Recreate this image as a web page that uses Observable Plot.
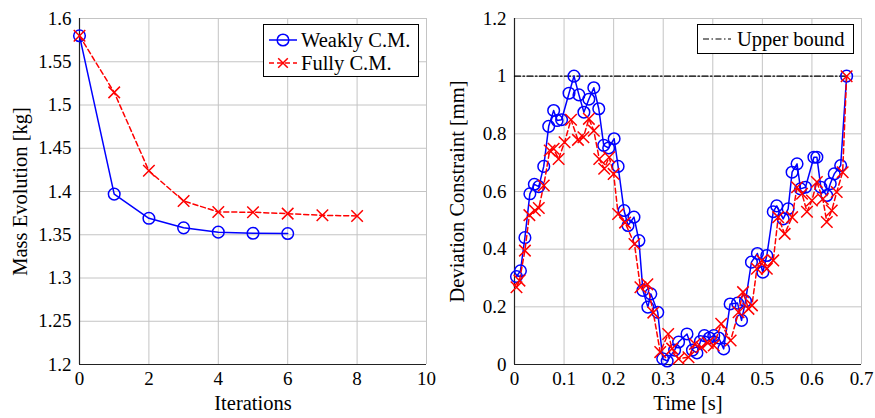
<!DOCTYPE html>
<html>
<head>
<meta charset="utf-8">
<script src="https://cdn.jsdelivr.net/npm/d3@7"></script>
<script src="https://cdn.jsdelivr.net/npm/@observablehq/plot@0.6"></script>
<style>
  html, body { margin: 0; padding: 0; background: #fff; }
  #wrap { position: relative; width: 875px; height: 418px; font-family: "Liberation Serif", serif; }
  #left, #right { position: absolute; top: 0; }
  #left { left: 0; }
  #right { left: 440px; }
  .legend { position: absolute; background: #fff; border: 1px solid #000; box-sizing: border-box; font-size: 20.5px; color: #000; }
  .legend .row { position: absolute; left: 0; height: 22px; white-space: nowrap; }
  .legend svg { position: absolute; overflow: visible; }
  .legend span { position: absolute; line-height: 22px; }
</style>
</head>
<body>
<div id="wrap">
  <div id="left"></div>
  <div id="right"></div>
  <div class="legend" style="left:263px; top:24px; width:156px; height:53px;">
    <div class="row" style="top:4px;">
      <svg width="30" height="22" style="left:5px; top:0;"><line x1="0" x2="28" y1="11" y2="11" stroke="#0000ff" stroke-width="1.5"/><circle cx="14" cy="11" r="5.8" fill="none" stroke="#0000ff" stroke-width="1.5"/></svg>
      <span style="left:37px; top:0;">Weakly C.M.</span>
    </div>
    <div class="row" style="top:27px;">
      <svg width="30" height="22" style="left:5px; top:0;"><line x1="0" x2="28" y1="11" y2="11" stroke="#ff0000" stroke-width="1.5" stroke-dasharray="5,3"/><path d="M9.2,6.2L18.8,15.8M9.2,15.8L18.8,6.2" stroke="#ff0000" stroke-width="1.5"/></svg>
      <span style="left:37px; top:0;">Fully C.M.</span>
    </div>
  </div>
  <div class="legend" style="left:697px; top:24px; width:157px; height:30px;">
    <div class="row" style="top:3px;">
      <svg width="30" height="22" style="left:5px; top:0;"><line x1="0" x2="28" y1="11" y2="11" stroke="#000" stroke-width="1.2" stroke-dasharray="6,2.5,1.5,2.5"/></svg>
      <span style="left:39px; top:0;">Upper bound</span>
    </div>
  </div>
</div>
<script>
// ---- Left chart data ----
const iterWeak = [0, 1, 2, 3, 4, 5, 6];
const massWeak = [1.58, 1.397, 1.369, 1.358, 1.353, 1.3517, 1.3514];
const iterFull = [0, 1, 2, 3, 4, 5, 6, 7, 8];
const massFull = [1.58, 1.5146, 1.4239, 1.389, 1.3764, 1.376, 1.3744, 1.3725, 1.3717];
const iterTicks = [0, 2, 4, 6, 8, 10];
const massTicks = [1.2, 1.25, 1.3, 1.35, 1.4, 1.45, 1.5, 1.55, 1.6];

// ---- Right chart data ----
const timeWeak = [0.004,0.012,0.021,0.031,0.040,0.049,0.059,0.069,0.079,0.086,0.095,0.110,0.120,0.130,0.140,0.150,0.160,0.170,0.180,0.190,0.201,0.209,0.221,0.229,0.241,0.251,0.259,0.269,0.275,0.289,0.299,0.308,0.323,0.331,0.348,0.359,0.368,0.375,0.383,0.393,0.402,0.412,0.422,0.435,0.450,0.458,0.466,0.478,0.490,0.501,0.509,0.522,0.529,0.542,0.552,0.560,0.570,0.577,0.587,0.604,0.610,0.618,0.630,0.637,0.645,0.658,0.670];
const devWeak = [0.305,0.325,0.44,0.592,0.625,0.617,0.687,0.826,0.881,0.846,0.849,0.941,1.0,0.935,0.875,0.920,0.960,0.887,0.760,0.751,0.783,0.687,0.534,0.482,0.511,0.430,0.257,0.199,0.245,0.181,0.020,0.012,0.050,0.078,0.106,0.050,0.040,0.080,0.100,0.092,0.100,0.092,0.054,0.210,0.213,0.153,0.220,0.355,0.385,0.320,0.378,0.530,0.550,0.505,0.540,0.667,0.696,0.609,0.615,0.719,0.719,0.615,0.586,0.627,0.661,0.690,1.0];
const timeFull = [0.004,0.010,0.021,0.030,0.041,0.049,0.059,0.071,0.079,0.089,0.101,0.114,0.128,0.139,0.150,0.160,0.171,0.181,0.191,0.200,0.209,0.223,0.242,0.254,0.268,0.280,0.294,0.310,0.318,0.331,0.351,0.364,0.377,0.390,0.402,0.417,0.436,0.452,0.461,0.472,0.479,0.489,0.499,0.509,0.522,0.532,0.545,0.560,0.570,0.580,0.590,0.600,0.610,0.622,0.630,0.640,0.650,0.662,0.670];
const devFull = [0.268,0.291,0.395,0.518,0.534,0.543,0.621,0.742,0.748,0.713,0.771,0.849,0.779,0.788,0.852,0.811,0.713,0.679,0.719,0.661,0.522,0.492,0.418,0.268,0.278,0.180,0.043,0.106,0.055,0.020,0.025,0.071,0.060,0.075,0.066,0.141,0.083,0.181,0.251,0.193,0.205,0.332,0.361,0.332,0.361,0.511,0.453,0.511,0.615,0.592,0.530,0.569,0.633,0.574,0.494,0.534,0.598,0.667,1.0];
const boundTime = [0, 0.67];
const boundDev = [1, 1];
const timeTicks = [0, 0.1, 0.2, 0.3, 0.4, 0.5, 0.6, 0.7];
const devTicks = [0, 0.2, 0.4, 0.6, 0.8, 1, 1.2];

const zip = (xs, ys) => xs.map((x, i) => ({x, y: ys[i]}));
const fmt = d => String(+d.toFixed(2));
const FONT = "Liberation Serif";
const GRID = "#c4c4c4";
const BLUE = "#0000ff", RED = "#ff0000";
const style = {fontFamily: FONT, fontSize: "19px", color: "#000", background: "transparent", overflow: "visible"};

const weakL = zip(iterWeak, massWeak);
const fullL = zip(iterFull, massFull);

const left = Plot.plot({
  width: 440, height: 418,
  marginLeft: 79, marginRight: 14, marginTop: 18, marginBottom: 54,
  style,
  x: {domain: [0, 10]},
  y: {domain: [1.2, 1.6]},
  marks: [
    Plot.gridX(iterTicks, {stroke: GRID, strokeOpacity: 1, strokeWidth: 1}),
    Plot.gridY(massTicks, {stroke: GRID, strokeOpacity: 1, strokeWidth: 1}),
    Plot.axisX(iterTicks, {tickSize: 0, tickPadding: 7, tickFormat: fmt, fontSize: 19, label: null}),
    Plot.axisY(massTicks, {tickSize: 0, tickPadding: 8, tickFormat: fmt, fontSize: 19, label: null}),
    Plot.ruleX([0], {stroke: "#222", strokeWidth: 1.2}),
    Plot.ruleY([1.2], {stroke: "#222", strokeWidth: 1.2}),
    Plot.line(weakL, {x: "x", y: "y", stroke: BLUE, strokeWidth: 1.5}),
    Plot.dot(weakL, {x: "x", y: "y", r: 5.8, stroke: BLUE, strokeWidth: 1.5, fill: "none"}),
    Plot.line(fullL, {x: "x", y: "y", stroke: RED, strokeWidth: 1.5, strokeDasharray: "5,3"}),
    Plot.dot(fullL, {x: "x", y: "y", r: 5.3, symbol: "times", stroke: RED, strokeWidth: 1.5}),
    Plot.text(["Mass Evolution [kg]"], {frameAnchor: "left", textAnchor: "middle", rotate: -90, dx: -59, fontSize: 20.5, lineAnchor: "middle"}),
    Plot.text(["Iterations"], {frameAnchor: "bottom", textAnchor: "middle", dy: 39, fontSize: 20.5, lineAnchor: "middle"})
  ]
});
document.getElementById("left").appendChild(left);

const weakR = zip(timeWeak, devWeak);
const fullR = zip(timeFull, devFull);
const bound = zip(boundTime, boundDev);

const right = Plot.plot({
  width: 435, height: 418,
  marginLeft: 74, marginRight: 14, marginTop: 18, marginBottom: 54,
  style,
  x: {domain: [0, 0.7]},
  y: {domain: [0, 1.2]},
  marks: [
    Plot.gridX(timeTicks, {stroke: GRID, strokeOpacity: 1, strokeWidth: 1}),
    Plot.gridY(devTicks, {stroke: GRID, strokeOpacity: 1, strokeWidth: 1}),
    Plot.axisX(timeTicks, {tickSize: 0, tickPadding: 7, tickFormat: fmt, fontSize: 19, label: null}),
    Plot.axisY(devTicks, {tickSize: 0, tickPadding: 8, tickFormat: fmt, fontSize: 19, label: null}),
    Plot.ruleX([0], {stroke: "#222", strokeWidth: 1.2}),
    Plot.ruleY([0], {stroke: "#222", strokeWidth: 1.2}),
    Plot.line(bound, {x: "x", y: "y", stroke: "#000", strokeWidth: 1.2, strokeDasharray: "6,2.5,1.5,2.5"}),
    Plot.line(weakR, {x: "x", y: "y", stroke: BLUE, strokeWidth: 1.5}),
    Plot.dot(weakR, {x: "x", y: "y", r: 5.8, stroke: BLUE, strokeWidth: 1.5, fill: "none"}),
    Plot.line(fullR, {x: "x", y: "y", stroke: RED, strokeWidth: 1.5, strokeDasharray: "5,3"}),
    Plot.dot(fullR, {x: "x", y: "y", r: 5.3, symbol: "times", stroke: RED, strokeWidth: 1.5}),
    Plot.text(["Deviation Constraint [mm]"], {frameAnchor: "left", textAnchor: "middle", rotate: -90, dx: -57, fontSize: 20.5, lineAnchor: "middle"}),
    Plot.text(["Time [s]"], {frameAnchor: "bottom", textAnchor: "middle", dy: 39, fontSize: 20.5, lineAnchor: "middle"})
  ]
});
document.getElementById("right").appendChild(right);
</script>
</body>
</html>
